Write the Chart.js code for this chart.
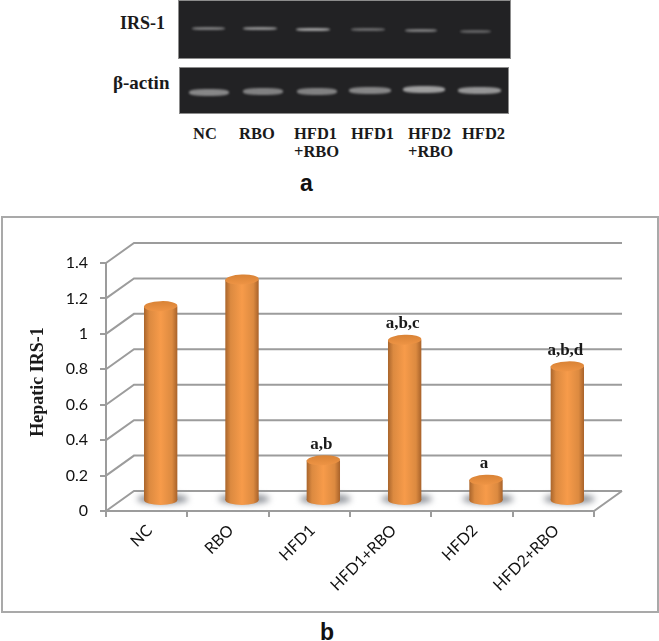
<!DOCTYPE html>
<html>
<head>
<meta charset="utf-8">
<script src="https://cdn.jsdelivr.net/npm/chart.js@4"></script>
<style>
  html, body { margin: 0; background: #fff; }
  #page { position: relative; width: 659px; height: 641px; overflow: hidden; }
  #frame { position: absolute; left: 1px; top: 216px; width: 654px; height: 393px; border: 2px solid #a9a9a9; }
  #myChart { position: absolute; left: 0; top: 0; }
  .gel { position: absolute; background: #222224; border: 1px solid #8c8c8c; box-sizing: border-box; overflow: hidden; }
  .band { position: absolute; border-radius: 40%; filter: blur(1.2px); }
  .txt { position: absolute; font: bold 16.5px "Liberation Serif", serif; color: #1a1a1a; white-space: pre; line-height: 18px; }
  .panel { position: absolute; font: bold 23px "Liberation Sans", sans-serif; color: #111; }
</style>
</head>
<body>
<div id="page">
  <div id="frame"></div>
  <div class="gel" id="gelTop" style="left:178px;top:0;width:333px;height:59px"></div>
  <div class="gel" id="gelBottom" style="left:179px;top:67px;width:330px;height:47px"></div>
  <div class="txt" style="left:120px;top:14px;font-size:18px">IRS-1</div>
  <div class="txt" style="left:113px;top:74px;font-size:19px">β-actin</div>
  <div class="txt" style="left:193px;top:125px">NC</div>
  <div class="txt" style="left:239px;top:125px">RBO</div>
  <div class="txt" style="left:294px;top:125px">HFD1
+RBO</div>
  <div class="txt" style="left:351px;top:125px">HFD1</div>
  <div class="txt" style="left:408px;top:125px">HFD2
+RBO</div>
  <div class="txt" style="left:462px;top:125px">HFD2</div>
  <div class="panel" style="left:300px;top:170px">a</div>
  <div class="panel" style="left:320px;top:619px">b</div>
  <canvas id="myChart" width="659" height="641"></canvas>
</div>
<script>
const categories = ["NC", "RBO", "HFD1", "HFD1+RBO", "HFD2", "HFD2+RBO"];
const irsValues = [1.1, 1.25, 0.23, 0.91, 0.12, 0.76];
const sigLabels = ["", "", "a,b", "a,b,c", "a", "a,b,d"];
const yTicks = [0, 0.2, 0.4, 0.6, 0.8, 1, 1.2, 1.4];
const yTitle = "Hepatic IRS-1";

// gel bands: centre x, centre y, width, brightness (one list per gel)
const irsBandX = [29, 81, 134, 189, 242, 296];
const irsBandY = [27, 27, 28, 28, 29, 30];
const irsBandW = [33, 34, 34, 34, 32, 31];
const irsBandLight = [0.45, 0.55, 0.62, 0.36, 0.45, 0.32];
const actinBandX = [29, 83, 137, 190, 244, 299];
const actinBandY = [24, 23, 23, 22, 21, 22];
const actinBandW = [40, 40, 40, 42, 42, 43];
const actinBandLight = [0.5, 0.48, 0.48, 0.5, 0.62, 0.58];

// depth of the fake 3D box, in pixels
const depthX = 28;
const depthY = -20;
const gridColor = "#9c9c9c";

function addBands(id, xs, ys, ws, lights, h) {
  const gel = document.getElementById(id);
  xs.forEach((x, i) => {
    const band = document.createElement("div");
    band.className = "band";
    band.style.left = (x - ws[i] / 2) + "px";
    band.style.top = (ys[i] - h / 2) + "px";
    band.style.width = ws[i] + "px";
    band.style.height = h + "px";
    band.style.background = "rgba(235,235,235," + lights[i] + ")";
    gel.appendChild(band);
  });
}
addBands("gelTop", irsBandX, irsBandY, irsBandW, irsBandLight, 3);
addBands("gelBottom", actinBandX, actinBandY, actinBandW, actinBandLight, 7);

function barGradient(ctx, left, right) {
  const g = ctx.createLinearGradient(left, 0, right, 0);
  g.addColorStop(0, "#a9652c");
  g.addColorStop(0.16, "#dc8a40");
  g.addColorStop(0.5, "#f79b4a");
  g.addColorStop(0.84, "#dc8a40");
  g.addColorStop(1, "#a8622a");
  return g;
}

// walls and floor behind the bars, built from the y scale
const box3d = {
  id: "box3d",
  beforeDatasetsDraw(chart) {
    const { ctx, scales: { x, y } } = chart;
    const left = x.left, right = x.right;
    ctx.save();
    ctx.strokeStyle = gridColor;
    ctx.lineWidth = 2;
    yTicks.forEach((v) => {
      const py = y.getPixelForValue(v);
      ctx.beginPath();
      ctx.moveTo(left, py);
      ctx.lineTo(left + depthX, py + depthY);
      ctx.lineTo(right + depthX, py + depthY);
      ctx.stroke();
    });
    const y0 = y.getPixelForValue(0);
    ctx.beginPath();
    ctx.moveTo(left, y0);
    ctx.lineTo(right, y0);
    ctx.lineTo(right + depthX, y0 + depthY);
    ctx.stroke();
    // axis title sits a little above the middle of the axis, so it is drawn here
    ctx.translate(38, 382);
    ctx.rotate(-Math.PI / 2);
    ctx.fillStyle = "#1a1a1a";
    ctx.font = 'bold 18px "Liberation Serif"';
    ctx.textAlign = "center";
    ctx.textBaseline = "middle";
    ctx.fillText(yTitle, 0, 0);
    ctx.restore();
  },
};

// bars are pushed back to the middle of the box, and get a round base and cap
const cylinders = {
  id: "cylinders",
  beforeDatasetDraw(chart, args) {
    const { ctx } = chart;
    const meta = chart.getDatasetMeta(args.index);
    ctx.save();
    ctx.translate(depthX / 2, depthY / 2);
    meta.data.forEach((bar) => {
      const w = bar.width / 2;
      // shadow on the floor
      ctx.save();
      ctx.filter = "blur(3px)";
      ctx.fillStyle = "#8b8f96";
      ctx.beginPath();
      ctx.ellipse(bar.x + 2, bar.base - 1, w + 9, 5, 0, 0, Math.PI * 2);
      ctx.fill();
      ctx.restore();
      ctx.fillStyle = barGradient(ctx, bar.x - w, bar.x + w);
      ctx.beginPath();
      ctx.ellipse(bar.x, bar.base, w, 5, 0, 0, Math.PI * 2);
      ctx.fill();
    });
  },
  afterDatasetDraw(chart, args) {
    const { ctx } = chart;
    const meta = chart.getDatasetMeta(args.index);
    meta.data.forEach((bar, i) => {
      const w = bar.width / 2;
      const cap = ctx.createLinearGradient(0, bar.y - 5, 0, bar.y + 5);
      cap.addColorStop(0, "#d98336");
      cap.addColorStop(1, "#ee9445");
      ctx.fillStyle = cap;
      ctx.beginPath();
      ctx.ellipse(bar.x, bar.y, w, 5, -0.04, 0, Math.PI * 2);
      ctx.fill();
      if (sigLabels[i]) {
        ctx.fillStyle = "#1a1a1a";
        ctx.font = 'bold 17px "Liberation Serif"';
        ctx.textAlign = "center";
        ctx.textBaseline = "middle";
        ctx.fillText(sigLabels[i], bar.x - 2, bar.y - 16);
      }
    });
    ctx.restore();
  },
};

new Chart("myChart", {
  type: "bar",
  data: {
    labels: categories,
    datasets: [
      {
        data: irsValues,
        barPercentage: 0.41,
        categoryPercentage: 1,
        borderWidth: 0,
        clip: false,
        backgroundColor: (c) => {
          const x = c.chart.scales.x;
          const mid = x.getPixelForValue(c.dataIndex);
          const half = (x.width / categories.length) * 0.205;
          //the scales have no size yet on the first pass
          if (!Number.isFinite(mid) || !Number.isFinite(half)) return "#f79b4a";
          return barGradient(c.chart.ctx, mid - half, mid + half);
        },
      },
    ],
  },
  plugins: [box3d, cylinders],
  options: {
    responsive: false,
    animation: false,
    devicePixelRatio: 1,
    layout: { padding: { top: 263, right: 65, left: 0, bottom: 0 } },
    plugins: { legend: { display: false }, tooltip: { enabled: false } },
    scales: {
      x: {
        offset: true,
        afterFit: (scale) => { scale.height = 130; },
        grid: { offset: true, drawOnChartArea: false, color: gridColor, lineWidth: 2, tickLength: 6 },
        border: { color: gridColor, width: 2 },
        ticks: {
          minRotation: 45,
          maxRotation: 45,
          autoSkip: false,
          labelOffset: 3,
          padding: 4,
          color: "#111",
          font: { family: "Lato", size: 16 },
        },
      },
      y: {
        min: 0,
        max: 1.4,
        afterFit: (scale) => { scale.width = 106; },
        afterBuildTicks: (scale) => { scale.ticks = yTicks.map((v) => ({ value: v })); },
        grid: { drawOnChartArea: false, color: gridColor, lineWidth: 2, tickLength: 6 },
        border: { color: gridColor, width: 2 },
        ticks: {
          color: "#111",
          padding: 12,
          font: { family: "Lato", size: 16 },
          callback: (v) => String(v),
        },
      },
    },
  },
});
</script>
</body>
</html>
